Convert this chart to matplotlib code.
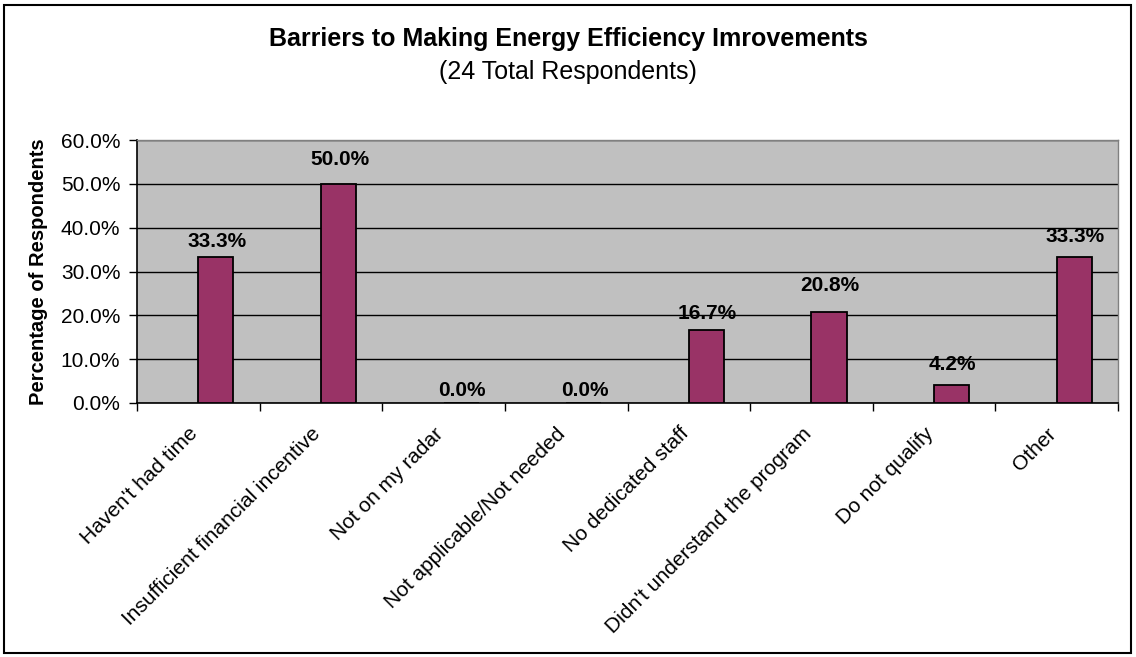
import matplotlib
matplotlib.use("Agg")
import matplotlib.pyplot as plt
from matplotlib.patches import Rectangle
from matplotlib.ticker import FuncFormatter, FixedLocator, NullFormatter

plt.rcParams['font.family'] = ['Liberation Sans', 'DejaVu Sans']

categories = ["Haven't had time", "Insufficient financial incentive", "Not on my radar",
              "Not applicable/Not needed", "No dedicated staff", "Didn't understand the program",
              "Do not qualify", "Other"]
values = [33.3, 50.0, 0.0, 0.0, 16.7, 20.8, 4.2, 33.3]
yticks = [0, 10, 20, 30, 40, 50, 60]

title = "Barriers to Making Energy Efficiency Imrovements"
subtitle = "(24 Total Respondents)"
ylabel = "Percentage of Respondents"

# vertical nudge (pixels) of each data label's baseline above its bar, as placed in the original
label_gap_px = [10, 19, 7, 7, 11, 21, 15, 15]

W, H = 1136, 657
fig = plt.figure(figsize=(W / 100, H / 100), dpi=100)
fig.patch.set_facecolor('white')

left, right, top, bottom = 137, 1118, 140, 403
ax = fig.add_axes([left / W, 1 - bottom / H, (right - left) / W, (bottom - top) / H])
ax.set_facecolor('#C0C0C0')

bar_w = 0.286
x = list(range(len(categories)))
bars = ax.bar(x, values, width=bar_w, align='edge', color='#993366',
              edgecolor='black', linewidth=1.3, zorder=3)
for xi, v, g in zip(x, values, label_gap_px):
    ax.annotate(f"{v:.1f}%", (xi + bar_w / 2, v), xytext=(1, g), textcoords='offset pixels',
                ha='center', va='baseline', fontsize=15, fontweight='bold')

ax.set_xlim(-0.5, len(categories) - 0.5)
ax.set_ylim(0, 60)
ax.set_yticks(yticks)
ax.yaxis.set_major_formatter(FuncFormatter(lambda v, p: f"{v:.1f}%"))
ax.grid(axis='y', color='black', linewidth=1.0, zorder=1)
ax.set_axisbelow(True)

# x ticks at category boundaries; category labels drawn at centers
ax.xaxis.set_major_locator(FixedLocator([i - 0.5 for i in range(len(categories) + 1)]))
ax.xaxis.set_major_formatter(NullFormatter())
for xi, cat in zip(x, categories):
    ax.annotate(cat, xy=(xi, 0), xycoords=('data', 'axes fraction'),
                xytext=(-10, -21), textcoords='offset pixels',
                rotation=45, ha='right', va='top', rotation_mode='anchor', fontsize=15)
ax.tick_params(axis='x', which='major', length=6, width=1, direction='out', color='black')
ax.tick_params(axis='y', length=6, width=1, direction='out', labelsize=15, pad=6)

for s in ['top', 'right']:
    ax.spines[s].set_color('#808080')
    ax.spines[s].set_linewidth(1.0)
for s in ['left', 'bottom']:
    ax.spines[s].set_color('black')
    ax.spines[s].set_linewidth(1.2)

ax.set_ylabel(ylabel, fontsize=14.5, fontweight='bold', labelpad=9)

fig.text(568 / W, 1 - 39 / H, title, ha='center', va='center', fontsize=18, fontweight='bold')
fig.text(568 / W, 1 - 72 / H, subtitle, ha='center', va='center', fontsize=18)

fig.add_artist(Rectangle((4 / W, 4 / H), (W - 9) / W, (H - 9) / H, transform=fig.transFigure,
                         fill=False, edgecolor='black', linewidth=1.5))

fig.savefig('out.png', dpi=100)
